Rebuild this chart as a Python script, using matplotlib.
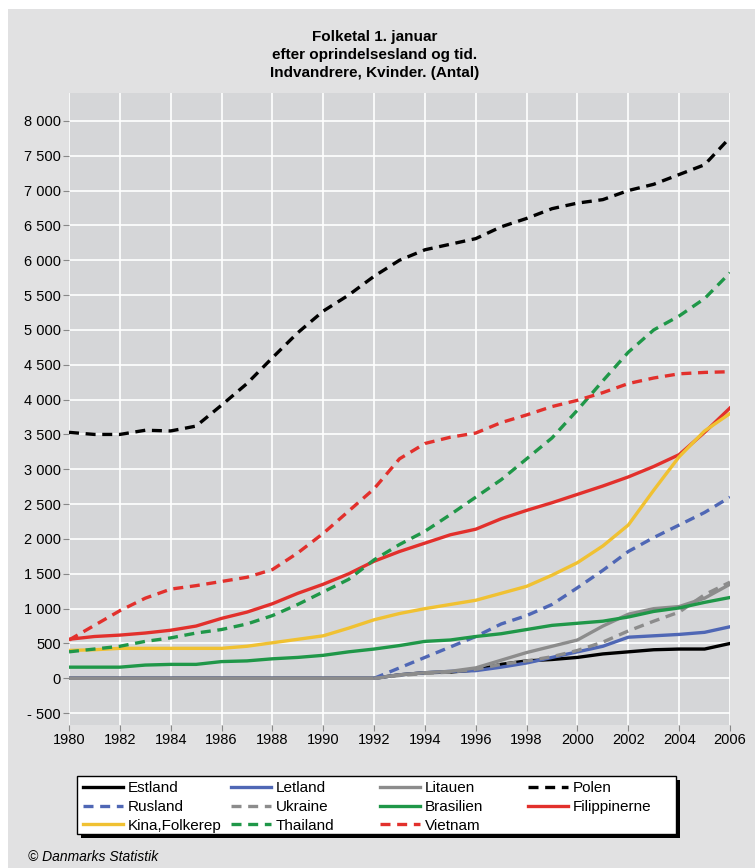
import numpy as np
from matplotlib import pyplot as plt
from matplotlib.patches import Rectangle

years = list(range(1980, 2007))
nan = np.nan

# values (women, number)
estland = [0] * 12 + [0, 50, 80, 90, 120, 200, 250, 270, 300, 350, 380, 410, 420, 420, 500]
letland = [0] * 12 + [0, 50, 80, 100, 110, 160, 220, 300, 380, 460, 590, 610, 630, 660, 740]
litauen = [0] * 12 + [0, 50, 80, 100, 150, 260, 370, 460, 550, 750, 920, 1000, 1030, 1150, 1350]
polen = [3530, 3500, 3500, 3560, 3550, 3620, 3920, 4230, 4600, 4960, 5270, 5500, 5770, 6000,
         6150, 6230, 6310, 6480, 6600, 6740, 6820, 6870, 7000, 7090, 7230, 7370, 7760]
rusland = [nan] * 12 + [0, 150, 300, 450, 600, 780, 900, 1060, 1300, 1550, 1820, 2020, 2200, 2380, 2600]
ukraine = [nan] * 12 + [0, 40, 70, 90, 130, 200, 250, 310, 400, 520, 680, 820, 950, 1200, 1380]
brasilien = [160, 160, 160, 190, 200, 200, 240, 250, 280, 300, 330, 380, 420, 470, 530, 550,
             600, 640, 700, 760, 790, 820, 880, 960, 1010, 1090, 1160]
filippinerne = [560, 600, 620, 650, 690, 750, 860, 950, 1070, 1220, 1350, 1500, 1680, 1820,
                1940, 2060, 2140, 2290, 2410, 2520, 2640, 2760, 2890, 3040, 3210, 3530, 3880]
kina = [400, 410, 430, 430, 430, 430, 430, 460, 510, 560, 610, 720, 840, 930, 1000, 1060,
        1120, 1220, 1320, 1480, 1660, 1900, 2200, 2700, 3180, 3550, 3800]
thailand = [380, 420, 460, 530, 580, 650, 700, 780, 900, 1060, 1240, 1420, 1700, 1920, 2110,
            2350, 2600, 2850, 3150, 3450, 3850, 4270, 4680, 5000, 5200, 5450, 5820]
vietnam = [550, 760, 970, 1150, 1280, 1330, 1390, 1450, 1560, 1800, 2080, 2400, 2720, 3150,
           3370, 3460, 3520, 3670, 3780, 3900, 3990, 4100, 4230, 4310, 4370, 4390, 4400]

BLACK = '#000000'
BLUE = '#4f67b5'
GRAY = '#8c8c8c'
GREEN = '#1f9748'
RED = '#e2302c'
YELLOW = '#f0c132'

series = [
    ('Estland', estland, BLACK, '-'),
    ('Letland', letland, BLUE, '-'),
    ('Litauen', litauen, GRAY, '-'),
    ('Polen', polen, BLACK, '--'),
    ('Rusland', rusland, BLUE, '--'),
    ('Ukraine', ukraine, GRAY, '--'),
    ('Brasilien', brasilien, GREEN, '-'),
    ('Filippinerne', filippinerne, RED, '-'),
    ('Kina,Folkerep', kina, YELLOW, '-'),
    ('Thailand', thailand, GREEN, '--'),
    ('Vietnam', vietnam, RED, '--'),
]

plt.rcParams['font.family'] = ['Liberation Sans', 'DejaVu Sans']

W, H = 755, 868
fig = plt.figure(figsize=(W / 100, H / 100), dpi=100, facecolor='white')
fig.patches.append(Rectangle((8 / W, 0), 1, 1 - 9 / H, transform=fig.transFigure,
                             facecolor='#e1e1e2', edgecolor='none', zorder=-10))

ax = fig.add_axes([69 / W, 1 - 725 / H, 661 / W, 632 / H])
ax.set_facecolor('#d5d6d8')

lines = []
for name, vals, color, ls in series:
    ln, = ax.plot(years, vals, color=color, linestyle=ls, linewidth=2.4, label=name,
                  dashes=(3, 2) if ls == '--' else (None, None))
    lines.append(ln)

ax.set_xlim(1980, 2006)
ax.set_ylim(-670, 8400)
ax.set_xticks(range(1980, 2007, 2))
yt = list(range(-500, 8001, 500))
ax.set_yticks(yt)
ax.set_yticklabels(['{:,}'.format(v).replace(',', ' ').replace('-', '- ') for v in yt])
ax.grid(True, color='white', linewidth=1.2)
ax.set_axisbelow(True)
for s in ax.spines.values():
    s.set_visible(False)
ax.tick_params(labelsize=10.5, length=4, color='#888888', pad=2)

fig.text(375 / W, 1 - 30 / H, 'Folketal 1. januar\nefter oprindelsesland og tid.\nIndvandrere, Kvinder. (Antal)',
         ha='center', va='top', fontsize=11, fontweight='bold', linespacing=1.38)

# legend box with a hard black shadow, then one frameless legend per column
bx0, by0, bx1, by1 = 77, 776, 676, 834
fig.patches.append(Rectangle((bx0 / W + 4 / W, 1 - by1 / H - 4 / H), (bx1 - bx0) / W, (by1 - by0) / H,
                             transform=fig.transFigure, facecolor='black', edgecolor='none', zorder=5))
fig.patches.append(Rectangle((bx0 / W, 1 - by1 / H), (bx1 - bx0) / W, (by1 - by0) / H,
                             transform=fig.transFigure, facecolor='white', edgecolor='black',
                             linewidth=1, zorder=6))
col_x = [83, 231, 380, 528]
for c, x in enumerate(col_x):
    idx = list(range(c, len(lines), 4))
    leg = fig.legend([lines[i] for i in idx], [series[i][0] for i in idx],
                     loc='upper left', bbox_to_anchor=(x / W, 1 - 781 / H),
                     frameon=False, fontsize=11, handlelength=2.65, handletextpad=0.3,
                     labelspacing=0.32, borderpad=0, borderaxespad=0)
    leg.set_zorder(7)

fig.text(28 / W, 1 - 857 / H, '© Danmarks Statistik', fontsize=10, style='italic', va='center')

fig.savefig('out.png', dpi=100, facecolor=fig.get_facecolor())
